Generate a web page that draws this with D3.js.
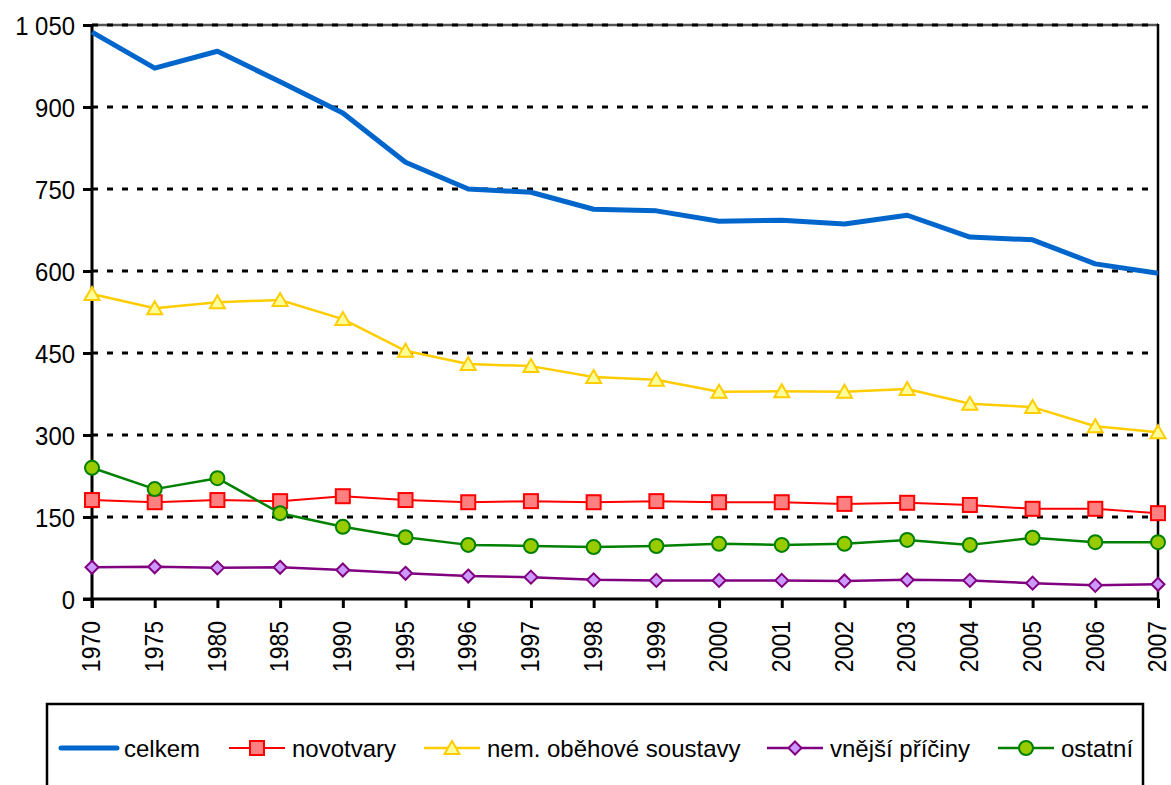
<!DOCTYPE html>
<html>
<head>
<meta charset="utf-8">
<script src="https://cdn.jsdelivr.net/npm/d3@7"></script>
<style>
  body { margin: 0; background: #fff; }
  text { font-family: "Liberation Sans", Arial, sans-serif; fill: #000; }
</style>
</head>
<body>
<script>
const years = ['1970', '1975', '1980', '1985', '1990', '1995', '1996', '1997', '1998',
    '1999', '2000', '2001', '2002', '2003', '2004', '2005', '2006', '2007'];

const celkem = [1037, 971, 1002, 946, 889, 799, 750, 744, 713, 710, 691, 693, 686, 702, 662, 657, 613, 596];
const novotvary = [181, 177, 181, 179, 188, 181, 177, 179, 177, 179, 177, 177, 174, 176, 172, 165, 165, 157];
const obehove = [558, 532, 543, 547, 512, 454, 430, 426, 406, 401, 379, 380, 379, 384, 357, 351, 316, 305];
const vnejsi = [58, 59, 57, 58, 53, 47, 42, 40, 35, 34, 34, 34, 33, 35, 34, 29, 25, 27];
const ostatni = [240, 201, 221, 157, 132, 113, 99, 97, 95, 97, 101, 99, 101, 108, 99, 112, 104, 104];

const yTicks = [0, 150, 300, 450, 600, 750, 900, 1050];

const series = [
    { name: 'celkem', values: celkem, color: '#0066CC', width: 5, marker: null },
    { name: 'novotvary', values: novotvary, color: '#FF0000', width: 2, marker: 'square', fill: '#FF8080' },
    { name: 'nem. oběhové soustavy', values: obehove, color: '#FFCC00', width: 2.5, marker: 'triangle', fill: '#FFFF99' },
    { name: 'vnější příčiny', values: vnejsi, color: '#800080', width: 2.5, marker: 'diamond', fill: '#CC99FF' },
    { name: 'ostatní', values: ostatni, color: '#008000', width: 2.5, marker: 'circle', fill: '#99CC00' }
];

const svgWidth = 1171;
const svgHeight = 785;
const plot = { left: 92, right: 1158, top: 25, bottom: 599 };
const squeeze = 0.92; // tick labels are a bit narrower than plain Arial

const svg = d3.select('body')
    .append('svg')
    .attr('width', svgWidth)
    .attr('height', svgHeight);

const x = d3.scalePoint()
    .domain(years)
    .range([plot.left, plot.right]);

const y = d3.scaleLinear()
    .domain([0, 1050])
    .range([plot.bottom, plot.top]);

const fmt = d3.formatLocale({ decimal: ',', thousands: '\u00a0', grouping: [3], currency: ['', ''] }).format(',');

// top border (solid) under the dashed grid
svg.append('line')
    .attr('x1', plot.left).attr('x2', plot.right)
    .attr('y1', y(1050)).attr('y2', y(1050))
    .attr('stroke', '#555').attr('stroke-width', 2.5);

// dashed gridlines
svg.append('g')
    .selectAll('line')
    .data(yTicks.filter(d => d > 0))
    .enter()
    .append('line')
    .attr('x1', plot.left).attr('x2', plot.right)
    .attr('y1', d => y(d)).attr('y2', d => y(d))
    .attr('stroke', '#000')
    .attr('stroke-width', 3)
    .attr('stroke-dasharray', '6,9');

// right border
svg.append('line')
    .attr('x1', plot.right).attr('x2', plot.right)
    .attr('y1', plot.top - 1).attr('y2', plot.bottom)
    .attr('stroke', '#000').attr('stroke-width', 2.5);

// y axis
const yAxis = svg.append('g')
    .attr('transform', `translate(${plot.left},0)`)
    .call(d3.axisLeft(y).tickValues(yTicks).tickSize(9).tickPadding(8).tickFormat(fmt));
yAxis.select('.domain').attr('stroke-width', 3).attr('d', `M0,${plot.top}V${plot.bottom + 9}`);
yAxis.selectAll('.tick line').attr('stroke-width', 3);
yAxis.selectAll('text')
    .style('font-size', '26px')
    .attr('x', -17 / squeeze)
    .attr('transform', `scale(${squeeze},1)`)
    .attr('dy', '0.36em');

// x axis
const xAxis = svg.append('g')
    .attr('transform', `translate(0,${plot.bottom})`)
    .call(d3.axisBottom(x).tickSize(9).tickSizeOuter(0));
xAxis.select('.domain').attr('stroke-width', 3).attr('d', `M${plot.left - 9},0H${plot.right}`);
xAxis.selectAll('.tick line').attr('stroke-width', 3);
xAxis.selectAll('text')
    .style('font-size', '25px')
    .attr('transform', `rotate(-90) scale(${squeeze},1)`)
    .attr('x', -22 / squeeze)
    .attr('y', 0)
    .attr('dy', '0.31em')
    .style('text-anchor', 'end');

// markers
function drawMarker(g, type, color, fill) {
    if (type === 'square') {
        g.append('rect').attr('x', -7).attr('y', -7).attr('width', 14).attr('height', 14)
            .attr('fill', fill).attr('stroke', color).attr('stroke-width', 2);
    } else if (type === 'triangle') {
        g.append('path').attr('d', 'M0,-7L7.5,6L-7.5,6Z')
            .attr('fill', fill).attr('stroke', color).attr('stroke-width', 2);
    } else if (type === 'diamond') {
        g.append('path').attr('d', 'M0,-6.5L6.5,0L0,6.5L-6.5,0Z')
            .attr('fill', fill).attr('stroke', color).attr('stroke-width', 2);
    } else if (type === 'circle') {
        g.append('circle').attr('r', 7)
            .attr('fill', fill).attr('stroke', color).attr('stroke-width', 2);
    }
}

const line = d3.line()
    .x((d, i) => x(years[i]))
    .y(d => y(d));

series.forEach(s => {
    const g = svg.append('g');
    g.append('path')
        .datum(s.values)
        .attr('fill', 'none')
        .attr('stroke', s.color)
        .attr('stroke-width', s.width)
        .attr('stroke-linejoin', 'round')
        .attr('d', line);
    if (s.marker) {
        s.values.forEach((v, i) => {
            const m = g.append('g').attr('transform', `translate(${x(years[i])},${y(v)})`);
            drawMarker(m, s.marker, s.color, s.fill);
        });
    }
});

// legend
svg.append('rect')
    .attr('x', 47).attr('y', 704)
    .attr('width', 1096).attr('height', 110)
    .attr('fill', 'none')
    .attr('stroke', '#000')
    .attr('stroke-width', 2.5);

const legendX = [61, 229, 424, 767, 998];
const legendY = 748;
series.forEach((s, i) => {
    const g = svg.append('g').attr('transform', `translate(${legendX[i]},${legendY})`);
    g.append('line')
        .attr('x1', 0).attr('x2', 56)
        .attr('stroke', s.color)
        .attr('stroke-width', s.width)
        .attr('stroke-linecap', s.marker ? 'butt' : 'round');
    if (s.marker) {
        const m = g.append('g').attr('transform', 'translate(28,0)');
        drawMarker(m, s.marker, s.color, s.fill);
    }
    g.append('text')
        .attr('x', 63)
        .attr('dy', '0.36em')
        .style('font-size', '24px')
        .text(s.name);
});
</script>
</body>
</html>
